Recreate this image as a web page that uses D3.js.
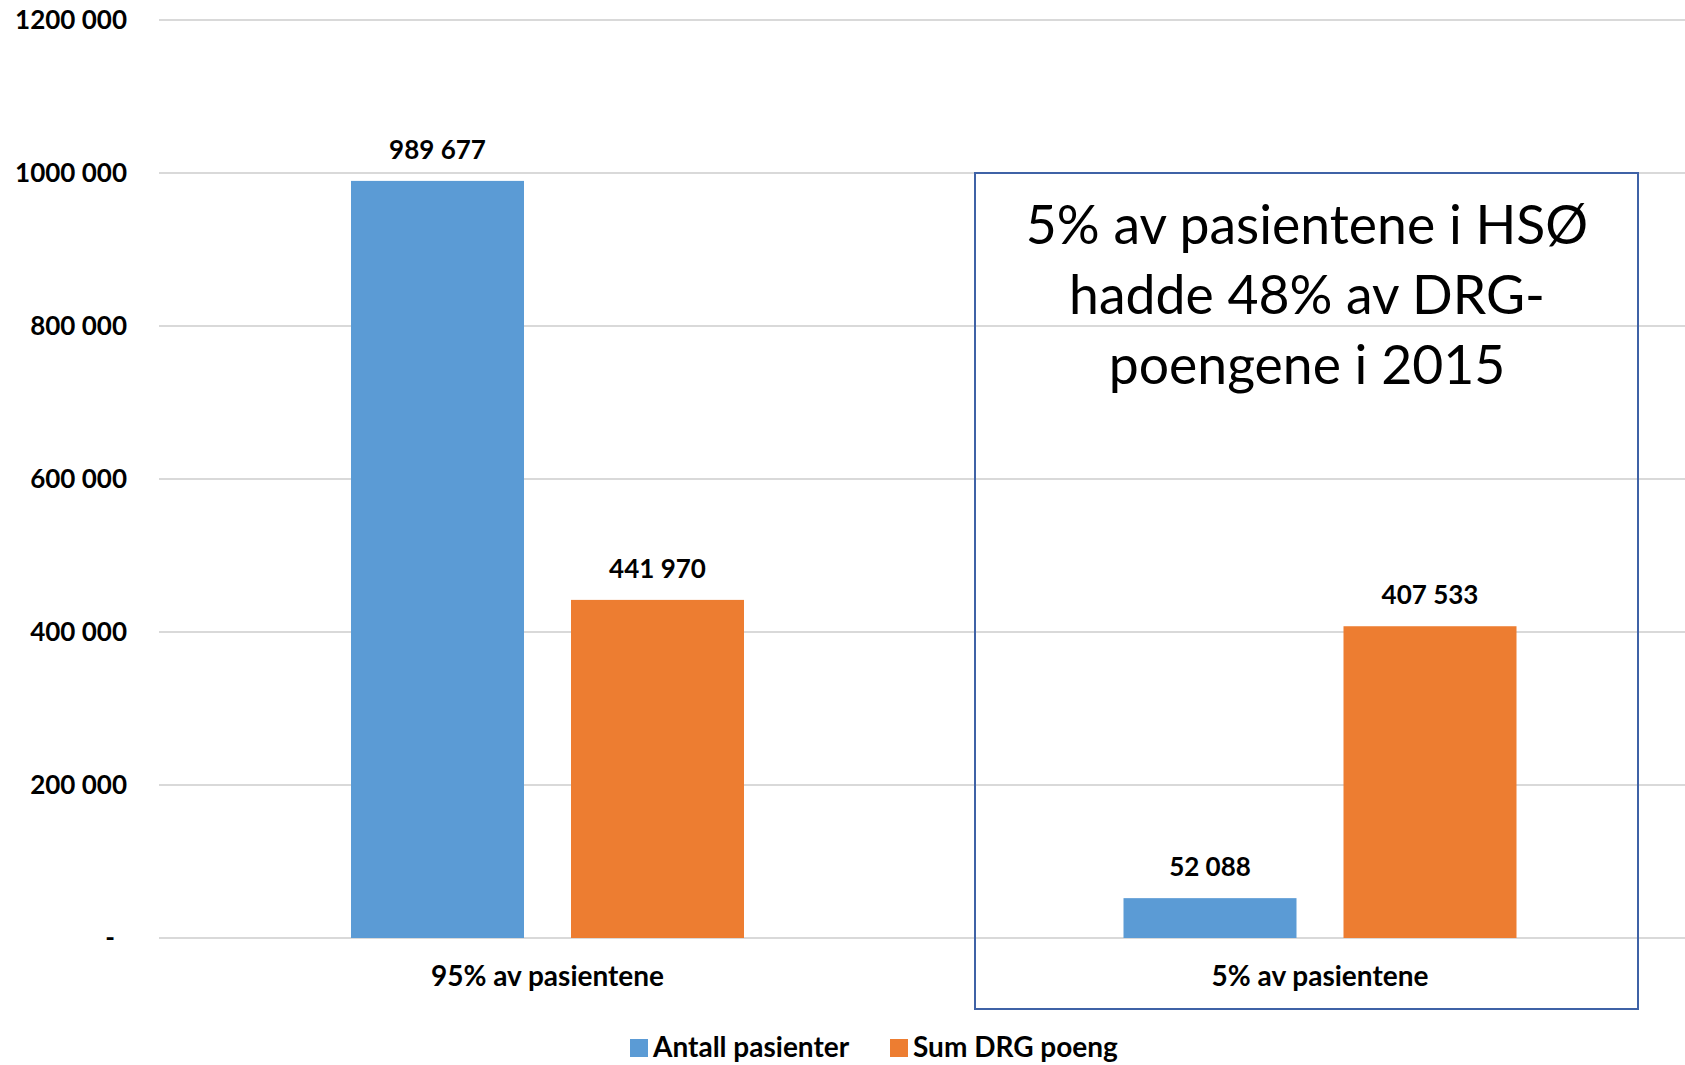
<!DOCTYPE html>
<html>
<head>
<meta charset="utf-8">
<script src="https://cdn.jsdelivr.net/npm/d3@7"></script>
<style>
  body { margin: 0; background: #fff; }
  text { font-family: Lato, "Open Sans", sans-serif; fill: #000; }
</style>
</head>
<body>
<div id="chart"></div>
<script>
width = 1685;
height = 1065;
chart_margins = {left: 161, right: -21, top: 20, bottom: 127};

categories = ["95% av pasientene", "5% av pasientene"];
series = ["Antall pasienter", "Sum DRG poeng"];
antall_pasienter = [989677, 52088];
sum_drg_poeng = [441970, 407533];
y_ticks = [0, 200000, 400000, 600000, 800000, 1000000, 1200000];
note_lines = ["5% av pasientene i HSØ", "hadde 48% av DRG-", "poengene i 2015"];
colors = ["#5B9BD5", "#ED7D31"];

// "1200 000" style, "-" for zero
function fmt(v) {
    if (v == 0) return "-";
    var hi = Math.floor(v / 1000), lo = v % 1000;
    if (hi == 0) return "" + lo;
    return hi + " " + String(lo).padStart(3, "0");
}

var rows = categories.map(function(c, i) {
    return {cat: c, values: [antall_pasienter[i], sum_drg_poeng[i]]};
});

var x0 = d3.scaleBand().domain(categories).range([chart_margins.left, width - chart_margins.right]);
var x1 = d3.scaleBand().domain(series).range([190, 583]).paddingInner(47 / 220);
var yScale = d3.scaleLinear().domain([0, 1200000]).range([height - chart_margins.bottom, chart_margins.top]);

var plot = d3.select("#chart").append("svg")
        .attr("width", width)
        .attr("height", height);

// gridlines
plot.append("g")
    .selectAll("line")
    .data(y_ticks)
    .enter()
    .append("line")
    .attr("x1", 159)
    .attr("x2", width)
    .attr("y1", d => yScale(d))
    .attr("y2", d => yScale(d))
    .attr("stroke", "#d9d9d9")
    .attr("stroke-width", 2);

// y axis labels
var yAxis = d3.axisLeft(yScale).tickValues(y_ticks).tickFormat(fmt).tickSize(0).tickPadding(0);
var yg = plot.append("g")
    .attr("transform", "translate(127, 0)")
    .call(yAxis);
yg.select(".domain").remove();
yg.selectAll("text")
    .attr("font-size", 26)
    .attr("font-weight", "bold")
    .attr("font-family", "Lato, sans-serif")
    .attr("fill", "#000")
    .attr("dx", d => d == 0 ? -12 : 0);

// bars
var groups = plot.selectAll(".grp")
    .data(rows)
    .enter()
    .append("g")
    .attr("class", "grp")
    .attr("transform", d => "translate(" + x0(d.cat) + ",0)");

groups.selectAll("rect")
    .data(d => d.values.map((v, i) => ({s: series[i], v: v, i: i})))
    .enter()
    .append("rect")
    .attr("x", d => x1(d.s))
    .attr("y", d => yScale(d.v))
    .attr("width", x1.bandwidth())
    .attr("height", d => yScale(0) - yScale(d.v))
    .attr("fill", d => colors[d.i]);

groups.selectAll(".val")
    .data(d => d.values.map((v, i) => ({s: series[i], v: v})))
    .enter()
    .append("text")
    .attr("class", "val")
    .attr("x", d => x1(d.s) + x1.bandwidth() / 2)
    .attr("y", d => yScale(d.v) - 22)
    .attr("text-anchor", "middle")
    .attr("font-size", 26)
    .attr("font-weight", "bold")
    .text(d => fmt(d.v));

// category labels
plot.append("g")
    .selectAll("text")
    .data(categories)
    .enter()
    .append("text")
    .attr("x", d => x0(d) + (x1.range()[0] + x1.range()[1]) / 2)
    .attr("y", 986)
    .attr("text-anchor", "middle")
    .attr("font-size", 28)
    .attr("font-weight", "bold")
    .text(d => d);

// annotation box
plot.append("rect")
    .attr("x", 975)
    .attr("y", yScale(1000000))
    .attr("width", 663)
    .attr("height", 836)
    .attr("fill", "none")
    .attr("stroke", "#3f62a6")
    .attr("stroke-width", 2);

plot.append("g")
    .selectAll("text")
    .data(note_lines)
    .enter()
    .append("text")
    .attr("x", 1307)
    .attr("y", (d, i) => 244 + i * 70)
    .attr("text-anchor", "middle")
    .attr("font-size", 53.5)
    .text(d => d);

// legend
var legend = plot.append("g").attr("transform", "translate(630, 1048)");
var lx = [0, 260];
series.forEach(function(s, i) {
    legend.append("rect")
        .attr("x", lx[i])
        .attr("y", -9)
        .attr("width", 18)
        .attr("height", 18)
        .attr("fill", colors[i]);
    legend.append("text")
        .attr("x", lx[i] + 23)
        .attr("y", 9)
        .attr("font-size", 28)
        .attr("font-weight", "bold")
        .text(s);
});
</script>
</body>
</html>
